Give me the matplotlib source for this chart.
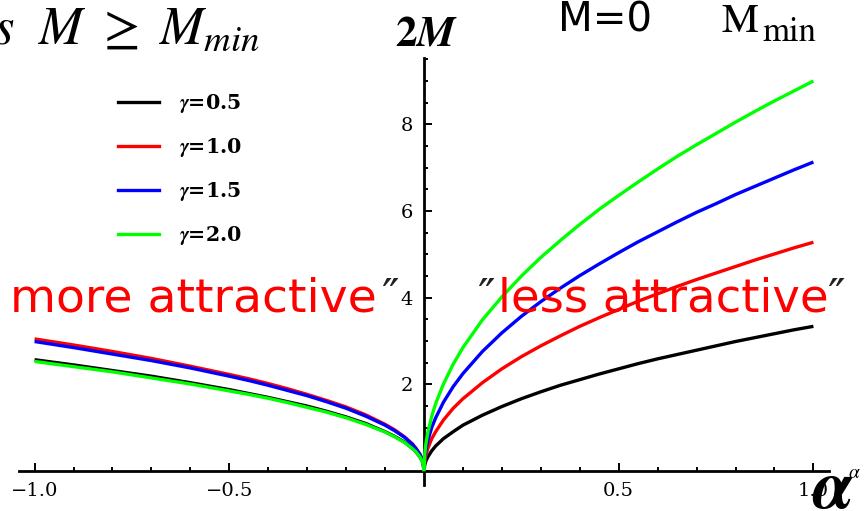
import matplotlib
matplotlib.use('Agg')
import matplotlib.pyplot as plt
from matplotlib.ticker import MultipleLocator, FixedLocator, FixedFormatter
from matplotlib.lines import Line2D

plt.rcParams['mathtext.fontset'] = 'stix'

W, H = 864, 511

# -- data (alpha > 0 branch)
alpha_pos = [0.0, 0.002, 0.005, 0.01, 0.02, 0.03, 0.05, 0.075, 0.1, 0.15, 0.2, 0.25,
             0.3, 0.35, 0.4, 0.45, 0.5, 0.55, 0.6, 0.65, 0.7, 0.75, 0.8, 0.85, 0.9,
             0.95, 1.0]
m_pos_g05 = [0.0, 0.15, 0.24, 0.33, 0.47, 0.58, 0.75, 0.91, 1.06, 1.29, 1.49, 1.67,
             1.83, 1.98, 2.11, 2.24, 2.36, 2.48, 2.59, 2.69, 2.79, 2.89, 2.99, 3.08,
             3.17, 3.26, 3.34]
m_pos_g10 = [0.0, 0.24, 0.37, 0.53, 0.75, 0.91, 1.18, 1.45, 1.67, 2.04, 2.36, 2.64,
             2.89, 3.12, 3.34, 3.54, 3.73, 3.92, 4.09, 4.26, 4.42, 4.57, 4.72, 4.87,
             5.01, 5.15, 5.28]
m_pos_g15 = [0.0, 0.32, 0.50, 0.71, 1.01, 1.23, 1.59, 1.95, 2.25, 2.76, 3.19, 3.57,
             3.91, 4.22, 4.51, 4.78, 5.04, 5.29, 5.52, 5.75, 5.97, 6.17, 6.38, 6.57,
             6.76, 6.95, 7.13]
m_pos_g20 = [0.0, 0.40, 0.64, 0.90, 1.27, 1.56, 2.01, 2.47, 2.85, 3.49, 4.02, 4.50,
             4.93, 5.32, 5.69, 6.04, 6.36, 6.67, 6.97, 7.26, 7.53, 7.79, 8.05, 8.30,
             8.54, 8.77, 9.00]

# -- alpha < 0 branch
alpha_neg = [-1.0, -0.9, -0.8, -0.7, -0.6, -0.5, -0.45, -0.4, -0.35, -0.3, -0.25,
             -0.2, -0.15, -0.1, -0.075, -0.05, -0.03, -0.02, -0.01, -0.005, -0.002, 0.0]
m_neg_g05 = [2.57, 2.45, 2.32, 2.19, 2.04, 1.88, 1.79, 1.70, 1.60, 1.50, 1.38,
             1.25, 1.10, 0.91, 0.80, 0.67, 0.53, 0.44, 0.32, 0.24, 0.16, 0.0]
m_neg_g10 = [3.05, 2.91, 2.76, 2.60, 2.42, 2.23, 2.13, 2.02, 1.90, 1.77, 1.63,
             1.48, 1.30, 1.08, 0.95, 0.79, 0.63, 0.52, 0.38, 0.28, 0.19, 0.0]
m_neg_g15 = [2.99, 2.85, 2.70, 2.55, 2.38, 2.19, 2.09, 1.98, 1.86, 1.74, 1.60,
             1.45, 1.27, 1.06, 0.93, 0.78, 0.62, 0.51, 0.38, 0.28, 0.18, 0.0]
m_neg_g20 = [2.53, 2.41, 2.29, 2.15, 2.01, 1.85, 1.77, 1.68, 1.58, 1.47, 1.36,
             1.23, 1.08, 0.90, 0.79, 0.66, 0.52, 0.44, 0.32, 0.23, 0.15, 0.0]

gammas = ['0.5', '1.0', '1.5', '2.0']
colors = ['#000000', '#ff0000', '#0000ff', '#00ff00']

x_major = [-1.0, -0.5, 0.5, 1.0]
x_labels = ['\u22121.0', '\u22120.5', '0.5', '1.0']
y_major = [2, 4, 6, 8]
y_labels = ['2', '4', '6', '8']


def fpos(x, y):
    # pixel coords (from top-left) -> figure fraction
    return x / W, 1 - y / H


fig = plt.figure(figsize=(W / 100, H / 100), dpi=100)
ax = fig.add_axes([19 / W, 26 / H, 810 / W, 427 / H])
ax.set_xlim(-1.04, 1.04)
ax.set_ylim(-0.32, 9.53)

pos_sets = [m_pos_g05, m_pos_g10, m_pos_g15, m_pos_g20]
neg_sets = [m_neg_g05, m_neg_g10, m_neg_g15, m_neg_g20]
for k in range(4):
    ax.plot(alpha_pos, pos_sets[k], color=colors[k], lw=2.4, zorder=2 + k,
            solid_capstyle='butt', solid_joinstyle='round')
    ax.plot(alpha_neg, neg_sets[k], color=colors[k], lw=2.4, zorder=2 + k,
            solid_capstyle='butt', solid_joinstyle='round')

for side in ['top', 'right']:
    ax.spines[side].set_visible(False)
ax.spines['left'].set_position(('data', 0))
ax.spines['bottom'].set_position(('data', 0))
ax.spines['left'].set_linewidth(2)
ax.spines['bottom'].set_linewidth(2)

ax.xaxis.set_major_locator(FixedLocator(x_major))
ax.xaxis.set_major_formatter(FixedFormatter(x_labels))
ax.xaxis.set_minor_locator(MultipleLocator(0.1))
ax.yaxis.set_major_locator(FixedLocator(y_major))
ax.yaxis.set_major_formatter(FixedFormatter(y_labels))
ax.yaxis.set_minor_locator(MultipleLocator(0.5))
ax.tick_params(which='both', direction='in', width=1.4)
ax.tick_params(which='major', length=5.5, pad=8)
ax.tick_params(which='minor', length=3.2)
for lab in ax.get_xticklabels() + ax.get_yticklabels():
    lab.set_family('DejaVu Serif')
    lab.set_fontsize(14)

# legend
handles = [Line2D([], [], color=c, lw=2.4) for c in colors]
labels = [r'$\mathbfit{\gamma}$=' + g for g in gammas]
fig.legend(handles, labels, loc='upper left', bbox_to_anchor=fpos(118, 92),
           frameon=False, borderpad=0, borderaxespad=0, handlelength=2.0,
           handletextpad=0.95, labelspacing=1.02,
           prop={'family': 'DejaVu Serif', 'weight': 'bold', 'size': 14.8})

# slide text lying over the chart
fig.text(*fpos(-7, 44), r'$s\ \ M\ \geq\ M_{min}$', fontsize=38, va='baseline')
fig.text(*fpos(395, 45), r'$\mathbf{2}\mathbfit{M}$', fontsize=31, va='baseline')
fig.text(*fpos(558, 32), 'M=0', fontsize=29, va='baseline')
fig.text(*fpos(722, 32), 'M', family='STIXGeneral', fontsize=30, va='baseline')
fig.text(*fpos(762, 41), 'min', family='STIXGeneral', fontsize=25, va='baseline')

fig.text(*fpos(10, 312), 'more attractive', color='#ff0000', fontsize=34, va='baseline')
fig.text(*fpos(381, 312), '\u2033', color='#222222', fontsize=34, va='baseline')
fig.text(*fpos(477, 312), '\u2033', color='#222222', fontsize=34, va='baseline')
fig.text(*fpos(498, 312), 'less attractive', color='#ff0000', fontsize=33.5, va='baseline')
fig.text(*fpos(827, 312), '\u2033', color='#222222', fontsize=34, va='baseline')

fig.text(*fpos(812, 508), r'$\mathbfit{\alpha}$', fontsize=50, va='baseline')
fig.text(*fpos(848, 478), r'$\alpha$', fontsize=14, va='baseline')

fig.savefig('out.png', dpi=100)
